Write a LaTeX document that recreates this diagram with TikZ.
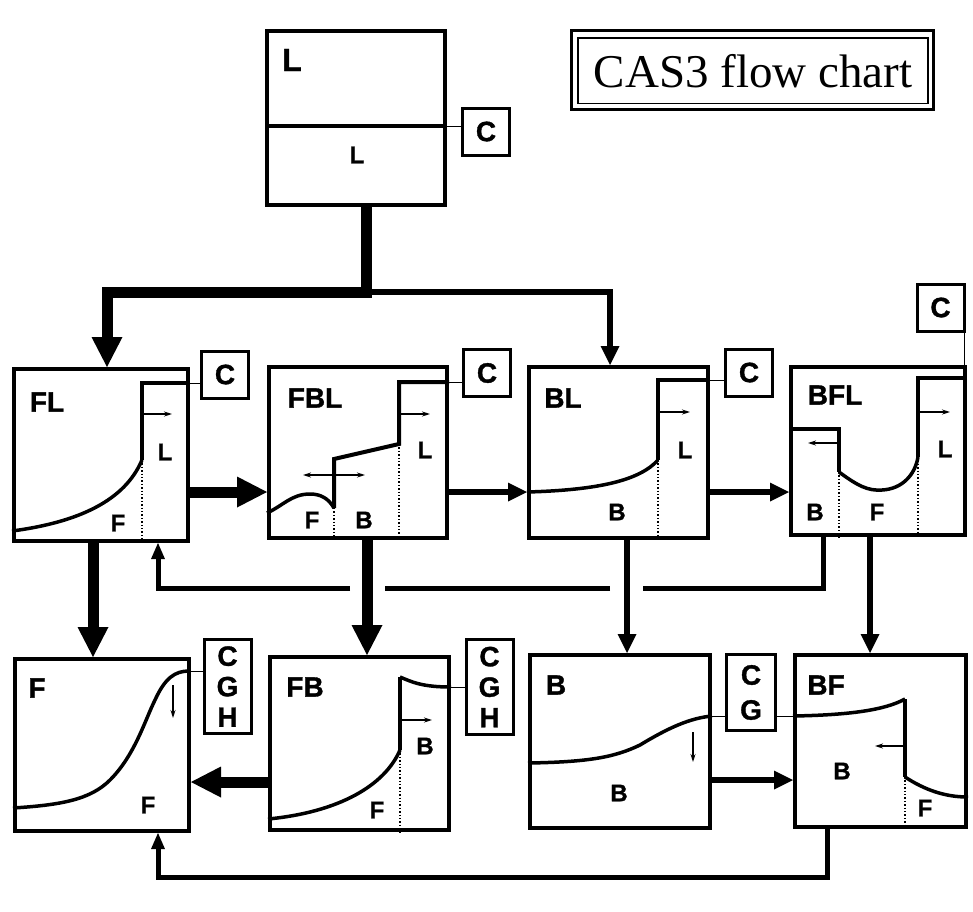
\documentclass[tikz,border=0pt]{standalone}
\usepackage{fontspec}
\setmainfont{Liberation Sans}
\newfontfamily\labfont{Liberation Sans Bold}[FakeBold=1.2]
\newfontfamily\titlefont{Liberation Serif}
\usetikzlibrary{arrows.meta,calc}
\begin{document}
\begin{tikzpicture}[x=1pt,y=-1pt,
 panel/.style={draw,line width=4pt,inner sep=0pt},
 cbox/.style={draw,line width=3pt,inner sep=0pt,minimum width=47pt,minimum height=47pt,font=\labfont\fontsize{28}{30.5}\selectfont,align=center},
 big/.style={font=\labfont\fontsize{28}{28}\selectfont,inner sep=0pt},
 small/.style={font=\labfont\fontsize{24}{24}\selectfont,inner sep=0pt},
 wall/.style={line width=4pt,line join=miter},
 curve/.style={line width=3.5pt},
 dots/.style={line width=1.4pt,dash pattern=on 1.4pt off 2pt},
 tiny/.style={line width=1.2pt,-{Stealth[length=8pt,width=5pt]}},
 tinyboth/.style={line width=1.2pt,{Stealth[length=8pt,width=5pt]}-{Stealth[length=8pt,width=5pt]}},
 link/.style={line width=1pt},
 bigarrow/.style={line width=11pt,line join=miter,-{Triangle[length=30pt,width=31pt,line width=0pt]}},
 midarrow/.style={line width=6pt,line join=miter,-{Triangle[length=19pt,width=19pt,line width=0pt]}},
 fbline/.style={line width=5pt,line join=miter},
 fbarrow/.style={line width=5pt,line join=miter,-{Triangle[length=16pt,width=14pt,line width=0pt]}}]
\useasboundingbox (0,0) rectangle (973,911);

% title
\node[draw,line width=1.5pt,minimum width=350pt,minimum height=65.5pt,inner sep=0pt,font=\titlefont\fontsize{47}{47}\selectfont] (title) at (753,70.75) {CAS3 flow chart};
\draw[line width=3pt] ($(title.north west)+(-6,-6.5)$) rectangle ($(title.south east)+(4.5,5.5)$);

% panels
\node[panel,minimum width=178pt,minimum height=174pt] (Ltop) at (356,118) {};
\node[panel,minimum width=174pt,minimum height=172pt] (FL) at (101,455) {};
\node[panel,minimum width=178pt,minimum height=171pt] (FBL) at (358,452.5) {};
\node[panel,minimum width=179pt,minimum height=171pt] (BL) at (618.5,452.5) {};
\node[panel,minimum width=174pt,minimum height=168pt] (BFL) at (878,451) {};
\node[panel,minimum width=174pt,minimum height=172pt] (F) at (102,745) {};
\node[panel,minimum width=179pt,minimum height=173pt] (FB) at (359.5,743.5) {};
\node[panel,minimum width=180pt,minimum height=173pt] (B) at (620,741.5) {};
\node[panel,minimum width=171pt,minimum height=172pt] (BF) at (880.5,741) {};

% C boxes
\node[cbox] (cL) at (486,131.5) {C};
\node[cbox] (cFL) at (225,374.5) {C};
\node[cbox] (cFBL) at (487,373) {C};
\node[cbox] (cBL) at (749,372.5) {C};
\node[cbox] (cBFL) at (940.5,307.5) {C};
\node[cbox,minimum height=94pt] (cF) at (227.5,686.5) {C\\G\\H};
\node[cbox,minimum height=95pt] (cFB) at (489.5,687) {C\\G\\H};
\node[cbox,minimum height=76pt,minimum width=49pt,font=\labfont\fontsize{28}{35}\selectfont] (cB) at (751,692.5) {C\\G};

% top L box
\draw[line width=3.5pt] (Ltop.west |- 0,126) -- (Ltop.east |- 0,126);
\node[font=\labfont\fontsize{32}{32}\selectfont,inner sep=0pt] (tLtop) at (292,60) {L};
\node[small] (tLtopL) at (357,155) {L};
\draw[link] (Ltop.east |- 0,126) -- (cL.west |- 0,126);

% FL panel
\draw[wall] (FL.east |- 0,383) -- (142,383) -- (142,460);
\draw[curve] (FL.west |- 0,531) .. controls (80,522) and (125,500) .. (142,460);
\draw[dots] (142,460) -- (FL.south -| 142,0);
\draw[tiny] (142,414) -- (172,414);
\node[big] (tFL) at (47,402) {FL};
\node[small] (tFL1) at (165,452) {L};
\node[small] (tFL2) at (118,523) {F};
\draw[link] (FL.east |- 0,383) -- (cFL.west |- 0,383);

% FBL panel
\draw[wall] (FBL.east |- 0,382) -- (399,382) -- (399,444) -- (334,459) -- (334,508);
\draw[curve] (FBL.west |- 0,513) to[out=25,in=180] (310,494) to[out=0,in=120] (334,508);
\draw[dots] (334,508) -- (FBL.south -| 334,0);
\draw[dots] (399,444) -- (FBL.south -| 399,0);
\draw[tiny] (399,414) -- (430,414);
\draw[tinyboth] (303,475) -- (365,475);
\node[big] (tFBL) at (315,398) {FBL};
\node[small] (tFBL1) at (425,450) {L};
\node[small] (tFBL2) at (312,520) {F};
\node[small] (tFBL3) at (364,520) {B};
\draw[link] (FBL.east |- 0,382) -- (cFBL.west |- 0,382);

% BL panel
\draw[wall] (BL.east |- 0,380) -- (658,380) -- (658,460);
\draw[curve] (BL.west |- 0,492) .. controls (600,490) and (640,480) .. (658,460);
\draw[dots] (658,460) -- (BL.south -| 658,0);
\draw[tiny] (658,412) -- (690,412);
\node[big] (tBL) at (563,398) {BL};
\node[small] (tBL1) at (685,450) {L};
\node[small] (tBL2) at (617,512) {B};
\draw[link] (BL.east |- 0,380) -- (cBL.west |- 0,380);

% BFL panel
\draw[wall] (BFL.east |- 0,378) -- (918,378) -- (918,457);
\draw[wall] (BFL.west |- 0,429) -- (839,429) -- (839,472);
\draw[curve] (839,472) .. controls (858,486) and (868,491) .. (882,490) .. controls (902,489) and (915,475) .. (918,457);
\draw[dots] (839,472) -- (BFL.south -| 839,0);
\draw[dots] (918,457) -- (BFL.south -| 918,0);
\draw[tiny] (918,412) -- (950,412);
\draw[tiny] (839,443) -- (808,443);
\node[big] (tBFL) at (835,395) {BFL};
\node[small] (tBFL1) at (945,449) {L};
\node[small] (tBFL2) at (815,512) {B};
\node[small] (tBFL3) at (877,512) {F};
\draw[link] (cBFL.south -| 964,0) -- (BFL.north -| 964,0);

% F panel
\draw[curve] (F.west |- 0,808) .. controls (60,805) and (90,800) .. (110,780) .. controls (135,755) and (145,720) .. (155,700) .. controls (165,678) and (175,671) .. (189,671);
\draw[tiny] (173,685) -- (173,718);
\node[big] (tF) at (37,688) {F};
\node[small] (tF1) at (148,805) {F};
\draw[link] (F.east |- 0,671) -- (cF.west |- 0,671);

% FB panel
\draw[wall] (400,677) -- (400,750);
\draw[curve] (400,677) .. controls (412,682) and (422,687) .. (FB.east |- 0,687);
\draw[curve] (FB.west |- 0,819) .. controls (340,812) and (385,785) .. (400,750);
\draw[dots] (400,750) -- (FB.south -| 400,0);
\draw[tiny] (400,720) -- (432,720);
\node[big] (tFB) at (305,687) {FB};
\node[small] (tFB1) at (425,746) {B};
\node[small] (tFB2) at (377,810) {F};
\draw[link] (FB.east |- 0,687) -- (cFB.west |- 0,687);

% B panel
\draw[curve] (B.west |- 0,763) .. controls (590,762) and (615,757) .. (640,745) .. controls (668,728) and (690,718) .. (B.east |- 0,716);
\draw[tiny] (693,732) -- (693,762);
\node[big] (tB) at (556,685) {B};
\node[small] (tB1) at (619,793) {B};
\draw[link] (B.east |- 0,716) -- (cB.west |- 0,716);
\draw[link] (cB.east |- 0,716) -- (BF.west |- 0,716);

% BF panel
\draw[curve] (BF.west |- 0,716) .. controls (850,715) and (885,710) .. (905,699);
\draw[wall] (905,699) -- (905,777);
\draw[curve] (905,777) .. controls (925,790) and (945,797) .. (BF.east |- 0,797);
\draw[dots] (905,777) -- (BF.south -| 905,0);
\draw[tiny] (905,746) -- (875,746);
\node[big] (tBF) at (826,685) {BF};
\node[small] (tBF1) at (842,771) {B};
\node[small] (tBF2) at (925,808) {F};

% distribution from top
\coordinate (split) at (366,292);
\draw[bigarrow] (Ltop.south -| split) -- (split) -| (FL.north -| 107,0);
\draw[midarrow] (split) -| (BL.north -| 610,0);

% horizontal arrows
\draw[bigarrow] (FL.east |- 0,492) -- (FBL.west |- 0,492);
\draw[midarrow] (FBL.east |- 0,492) -- (BL.west |- 0,492);
\draw[midarrow] (BL.east |- 0,492) -- (BFL.west |- 0,492);
\draw[bigarrow] (FB.west |- 0,782) -- (F.east |- 0,782);
\draw[midarrow] (B.east |- 0,780) -- (BF.west |- 0,780);

% vertical arrows
\draw[bigarrow] (FL.south -| 93,0) -- (F.north -| 93,0);
\draw[bigarrow] (FBL.south -| 367,0) -- (FB.north -| 367,0);
\draw[midarrow] (BL.south -| 627,0) -- (B.north -| 627,0);
\draw[midarrow] (BFL.south -| 870,0) -- (BF.north -| 870,0);

% feedback BFL -> FL
\coordinate (g1) at (643,588);
\coordinate (g2) at (610,588);
\coordinate (g3) at (385,588);
\coordinate (g4) at (350,588);
\draw[fbline] (BFL.south -| 823,0) |- (g1);
\draw[fbline] (g2) -- (g3);
\draw[fbarrow] (g4) -| (FL.south -| 158,0);

% feedback BF -> F
\coordinate (g5) at (827,877);
\draw[fbarrow] (BF.south -| g5) -- (g5) -| (F.south -| 158,0);
\end{tikzpicture}
\end{document}
